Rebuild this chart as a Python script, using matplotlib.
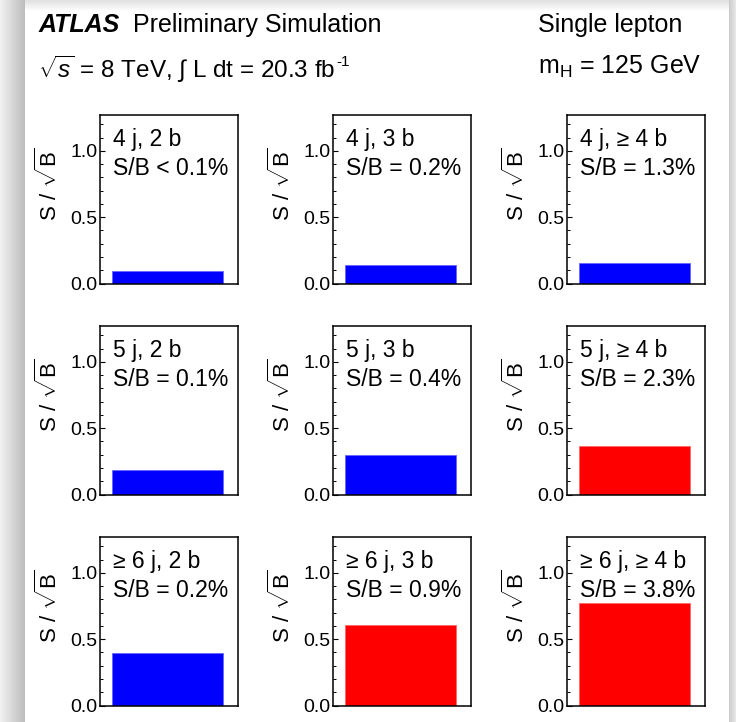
import numpy as np
import matplotlib
matplotlib.use("Agg")
import matplotlib.pyplot as plt
from matplotlib.ticker import MultipleLocator, FormatStrFormatter

plt.rcParams['font.family'] = ['Liberation Sans', 'DejaVu Sans']
plt.rcParams['mathtext.fontset'] = 'custom'
plt.rcParams['mathtext.rm'] = 'Liberation Sans'
plt.rcParams['mathtext.it'] = 'Liberation Sans:italic'
plt.rcParams['mathtext.bf'] = 'Liberation Sans:bold'
plt.rcParams['ytick.labelsize'] = 14

# jet / b-tag multiplicity regions (rows: jets, cols: b-tags)
jet_bins = ["4 j", "5 j", "\u2265 6 j"]
btag_bins = ["2 b", "3 b", "\u2265 4 b"]
sb_labels = [["S/B < 0.1%", "S/B = 0.2%", "S/B = 1.3%"],
             ["S/B = 0.1%", "S/B = 0.4%", "S/B = 2.3%"],
             ["S/B = 0.2%", "S/B = 0.9%", "S/B = 3.8%"]]
s_sqrtb = [[0.093, 0.140, 0.155],
           [0.187, 0.294, 0.369],
           [0.398, 0.605, 0.770]]
signal_rich = [[False, False, False],
               [False, False, True],
               [False, True, True]]

W, H = 736, 722
fig = plt.figure(figsize=(W / 100, H / 100), dpi=100)

# page shadow around the canvas
bg = np.ones((H, W))
bg[:, :25] = np.linspace(0.94, 0.74, 25)[None, :]
bg[:, 729:] = np.linspace(0.80, 0.90, W - 729)[None, :]
top = np.linspace(0.88, 1.0, 12)[:, None]
bg[:12, 25:729] = np.minimum(bg[:12, 25:729], top)
bgax = fig.add_axes([0, 0, 1, 1], zorder=-5)
bgax.imshow(bg, cmap='gray', vmin=0, vmax=1, aspect='auto', interpolation='bilinear')
bgax.axis('off')


def px(x, y):
    return x / W, 1 - y / H


# header
fig.text(*px(39, 32), "ATLAS", fontsize=18, fontweight='bold', fontstyle='italic', va='baseline')
fig.text(*px(133, 32), "Preliminary Simulation", fontsize=18, va='baseline')
lumi = fig.text(*px(38, 78), r"$\sqrt{s}$ = 8 TeV, $\int$ L dt = 20.3 fb", fontsize=17.5,
                va='baseline')
fig.text(*px(538, 32), "Single lepton", fontsize=18, va='baseline')
fig.text(*px(538, 74), r"m$_{\mathrm{H}}$ = 125 GeV", fontsize=18, va='baseline')

fig.canvas.draw()
x_end = lumi.get_window_extent().x1
fig.text(x_end / W + 0.001, 1 - 66 / H, "-1", fontsize=11, va='baseline')

col_left = [100, 333, 567]
row_bottom = [283.5, 494.5, 705.5]
aw, ah = 138, 168.5

for i in range(3):
    for j in range(3):
        l, b = px(col_left[j], row_bottom[i])
        ax = fig.add_axes([l, b, aw / W, ah / H])
        color = 'red' if signal_rich[i][j] else 'blue'
        edge = '#ff6666' if signal_rich[i][j] else '#6666ff'
        ax.bar(0.49, s_sqrtb[i][j], width=0.8, color=color, edgecolor=edge, linewidth=0.6)
        ax.set_xlim(0, 1)
        ax.set_ylim(0, 1.27)
        ax.set_xticks([])
        ax.yaxis.set_major_locator(MultipleLocator(0.5))
        ax.yaxis.set_minor_locator(MultipleLocator(0.1))
        ax.yaxis.set_major_formatter(FormatStrFormatter('%.1f'))
        ax.tick_params(axis='y', which='major', direction='in', length=3.5, width=0.8,
                       labelsize=14, pad=2)
        ax.tick_params(axis='y', which='minor', direction='in', length=1.8, width=0.7)
        for s in ax.spines.values():
            s.set_linewidth(1.1)
        ax.text(0.095, 1.04, f"{jet_bins[i]}, {btag_bins[j]}", fontsize=16.5, va='baseline')
        ax.text(0.095, 0.82, sb_labels[i][j], fontsize=16.5, va='baseline')
        ax.text(-0.37, 0.81, r"S / $\sqrt{\mathrm{B}}$", transform=ax.transAxes,
                rotation=90, fontsize=16, ha='center', va='top')

fig.savefig("out.png", dpi=100)
